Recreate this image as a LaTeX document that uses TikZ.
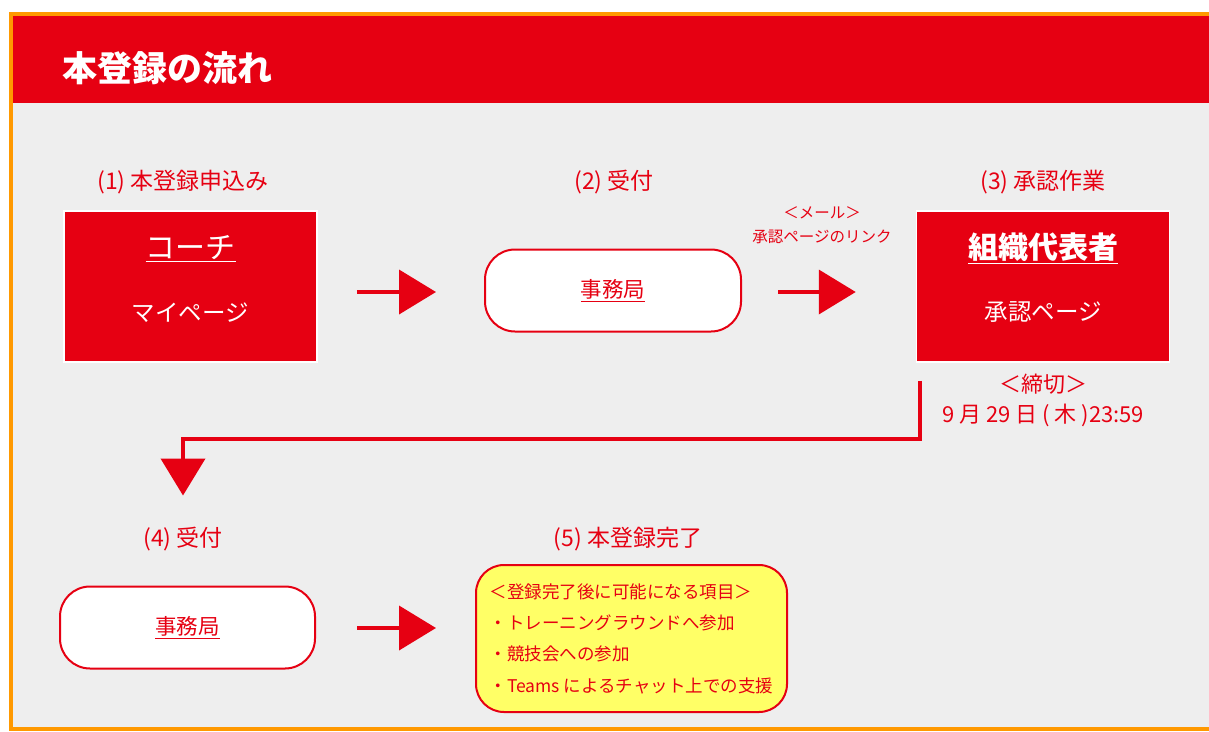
\documentclass[tikz,border=0pt]{standalone}
\usepackage{fontspec}
\setmainfont{Noto Sans CJK JP}
\usetikzlibrary{arrows.meta,calc}
\definecolor{jred}{HTML}{E60012}
\definecolor{frameorange}{HTML}{FF9900}
\definecolor{bggrey}{HTML}{EEEEEE}
\definecolor{noteyellow}{HTML}{FFFF66}

\begin{document}
\begin{tikzpicture}[x=1pt, y=-1pt,
    redbox/.style={draw=white, line width=1.5pt, fill=jred, minimum width=253pt, minimum height=151pt},
    officebox/.style={draw=jred, line width=2pt, fill=white, rounded corners=30pt, minimum width=256pt, minimum height=82pt, text=jred, font=\fontsize{21.5}{26}\selectfont},
    goalbox/.style={draw=jred, line width=2pt, fill=noteyellow, rounded corners=28pt, minimum width=311pt, minimum height=147pt, align=left, text=jred, font=\fontsize{17.5}{31.3}\selectfont},
    boxhead/.style={text=white, font=\fontsize{30}{36}\selectfont},
    boxsub/.style={text=white, font=\fontsize{23.5}{28}\selectfont},
    stagelabel/.style={text=jred, font=\fontsize{23}{28}\selectfont},
    mailtext/.style={text=jred, font=\fontsize{15.5}{19}\selectfont},
    deadline/.style={text=jred, font=\fontsize{22}{26}\selectfont},
    bigarrow/.style={draw=jred, line width=4pt, line join=miter, -{Triangle[length=37pt,width=44pt]}}]
    \useasboundingbox (0,0) rectangle (1209,731);
    \clip (0,0) rectangle (1209,731);
    % frame and header
    \fill[bggrey] (13,16) rectangle (1209,727);
    \fill[jred] (13,16) rectangle (1209,103);
    \draw[frameorange, line width=4pt] (11,14) rectangle (1230,729);
    \node[anchor=west, inner sep=0pt, text=white, font=\fontsize{35}{40}\selectfont\bfseries] (title) at (62,68) {本登録の流れ};

    % (1) coach
    \node[stagelabel] (label1) at (183,182) {(1) 本登録申込み};
    \node[redbox] (coach) at (190.5,286.5) {};
    \node[boxhead] (coachname) at ($(coach.north)+(0,38)$) {\underline{コーチ}};
    \node[boxsub] (coachpage) at ($(coach.north)+(0,102)$) {マイページ};

    % (2) office
    \node[stagelabel] (label2) at (614,182) {(2) 受付};
    \node[officebox] (office1) at (613,290.5) {\underline{事務局}};
    \node[mailtext] (mail1) at (822,213) {＜メール＞};
    \node[mailtext] (mail2) at (822,237) {承認ページのリンク};

    % (3) representative
    \node[stagelabel] (label3) at (1043,182) {(3) 承認作業};
    \node[redbox] (rep) at (1043,286.5) {};
    \node[boxhead, font=\fontsize{30}{36}\selectfont\bfseries] (repname) at ($(rep.north)+(0,38)$) {\underline{組織代表者}};
    \node[boxsub] (reppage) at ($(rep.north)+(0,102)$) {承認ページ};
    \node[deadline] (limit1) at (1043,384) {＜締切＞};
    \node[deadline] (limit2) at (1043,415) {9 月 29 日 ( 木 )23:59};

    % (4) office
    \node[stagelabel] (label4) at (183,539) {(4) 受付};
    \node[officebox, minimum width=255pt] (office2) at (187.5,627.5) {\underline{事務局}};

    % (5) done
    \node[stagelabel] (label5) at (628,539) {(5) 本登録完了};
    \node[goalbox] (goal) at (631.5,638.5) {＜登録完了後に可能になる項目＞\\・トレーニングラウンドへ参加\\・競技会への参加\\・Teams によるチャット上での支援};

    % arrows
    \draw[bigarrow] ($(coach.east|-office1.west)+(39,1.5)$) -- ($(office1.west)+(-48,1.5)$);
    \draw[bigarrow] ($(office1.east)+(36,1.5)$) -- ($(office1.east-|rep.west)+(-60,1.5)$);
    \draw[bigarrow] ($(rep.south west)+(4.5,18)$) -- ++(0,58) -| ($(office2.north)+(-4.5,-90)$);
    \draw[bigarrow] ($(office2.east)+(41,0.5)$) -- ($(office2.east-|goal.west)+(-39,0.5)$);
\end{tikzpicture}
\end{document}
